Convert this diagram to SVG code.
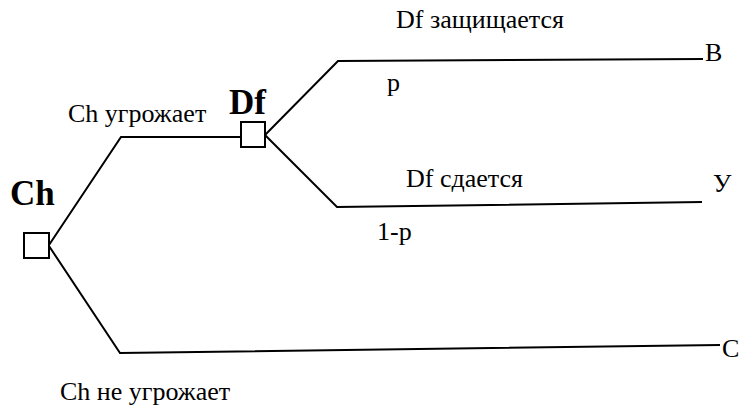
<svg xmlns="http://www.w3.org/2000/svg" width="739" height="407" viewBox="0 0 739 407">
  <style>
    .edge { fill: none; stroke: #000; stroke-width: 2; stroke-linejoin: miter; }
    .box { fill: #fff; stroke: #000; stroke-width: 2; }
    text { font-family: 'Liberation Serif', 'Times New Roman', serif; fill: #000; }
    .lbl { font-size: 26px; }
    .name { font-size: 35px; font-weight: bold; }
  </style>
  <rect width="739" height="407" fill="#fff"/>

  <!-- branches of the game tree -->
  <g id="connectors">
    <polyline class="edge" points="49,245 121,137 241,137"/>
    <polyline class="edge" points="49,246 120,353 720,345"/>
    <polyline class="edge" points="265,135 338,61 703,59"/>
    <polyline class="edge" points="265,135 337,207 702,202"/>
  </g>

  <!-- decision node of Ch -->
  <g id="node-ch">
    <rect class="box" x="24" y="233" width="25" height="25"/>
    <text class="name" x="10" y="205">Ch</text>
  </g>

  <!-- decision node of Df -->
  <g id="node-df">
    <rect class="box" x="241" y="122" width="24" height="25"/>
    <text class="name" x="229" y="114">Df</text>
  </g>

  <!-- branch labels -->
  <g id="labels">
    <text class="lbl" x="68" y="122">Ch угрожает</text>
    <text class="lbl" x="60" y="400">Ch не угрожает</text>
    <text class="lbl" x="396" y="28">Df защищается</text>
    <text class="lbl" x="387" y="91">p</text>
    <text class="lbl" x="406" y="187">Df сдается</text>
    <text class="lbl" x="377" y="240">1-p</text>
  </g>

  <!-- outcomes -->
  <g id="outcome-b"><text class="lbl" x="705" y="61">B</text></g>
  <g id="outcome-y"><text class="lbl" x="713" y="192">У</text></g>
  <g id="outcome-c"><text class="lbl" x="722" y="357">C</text></g>
</svg>
